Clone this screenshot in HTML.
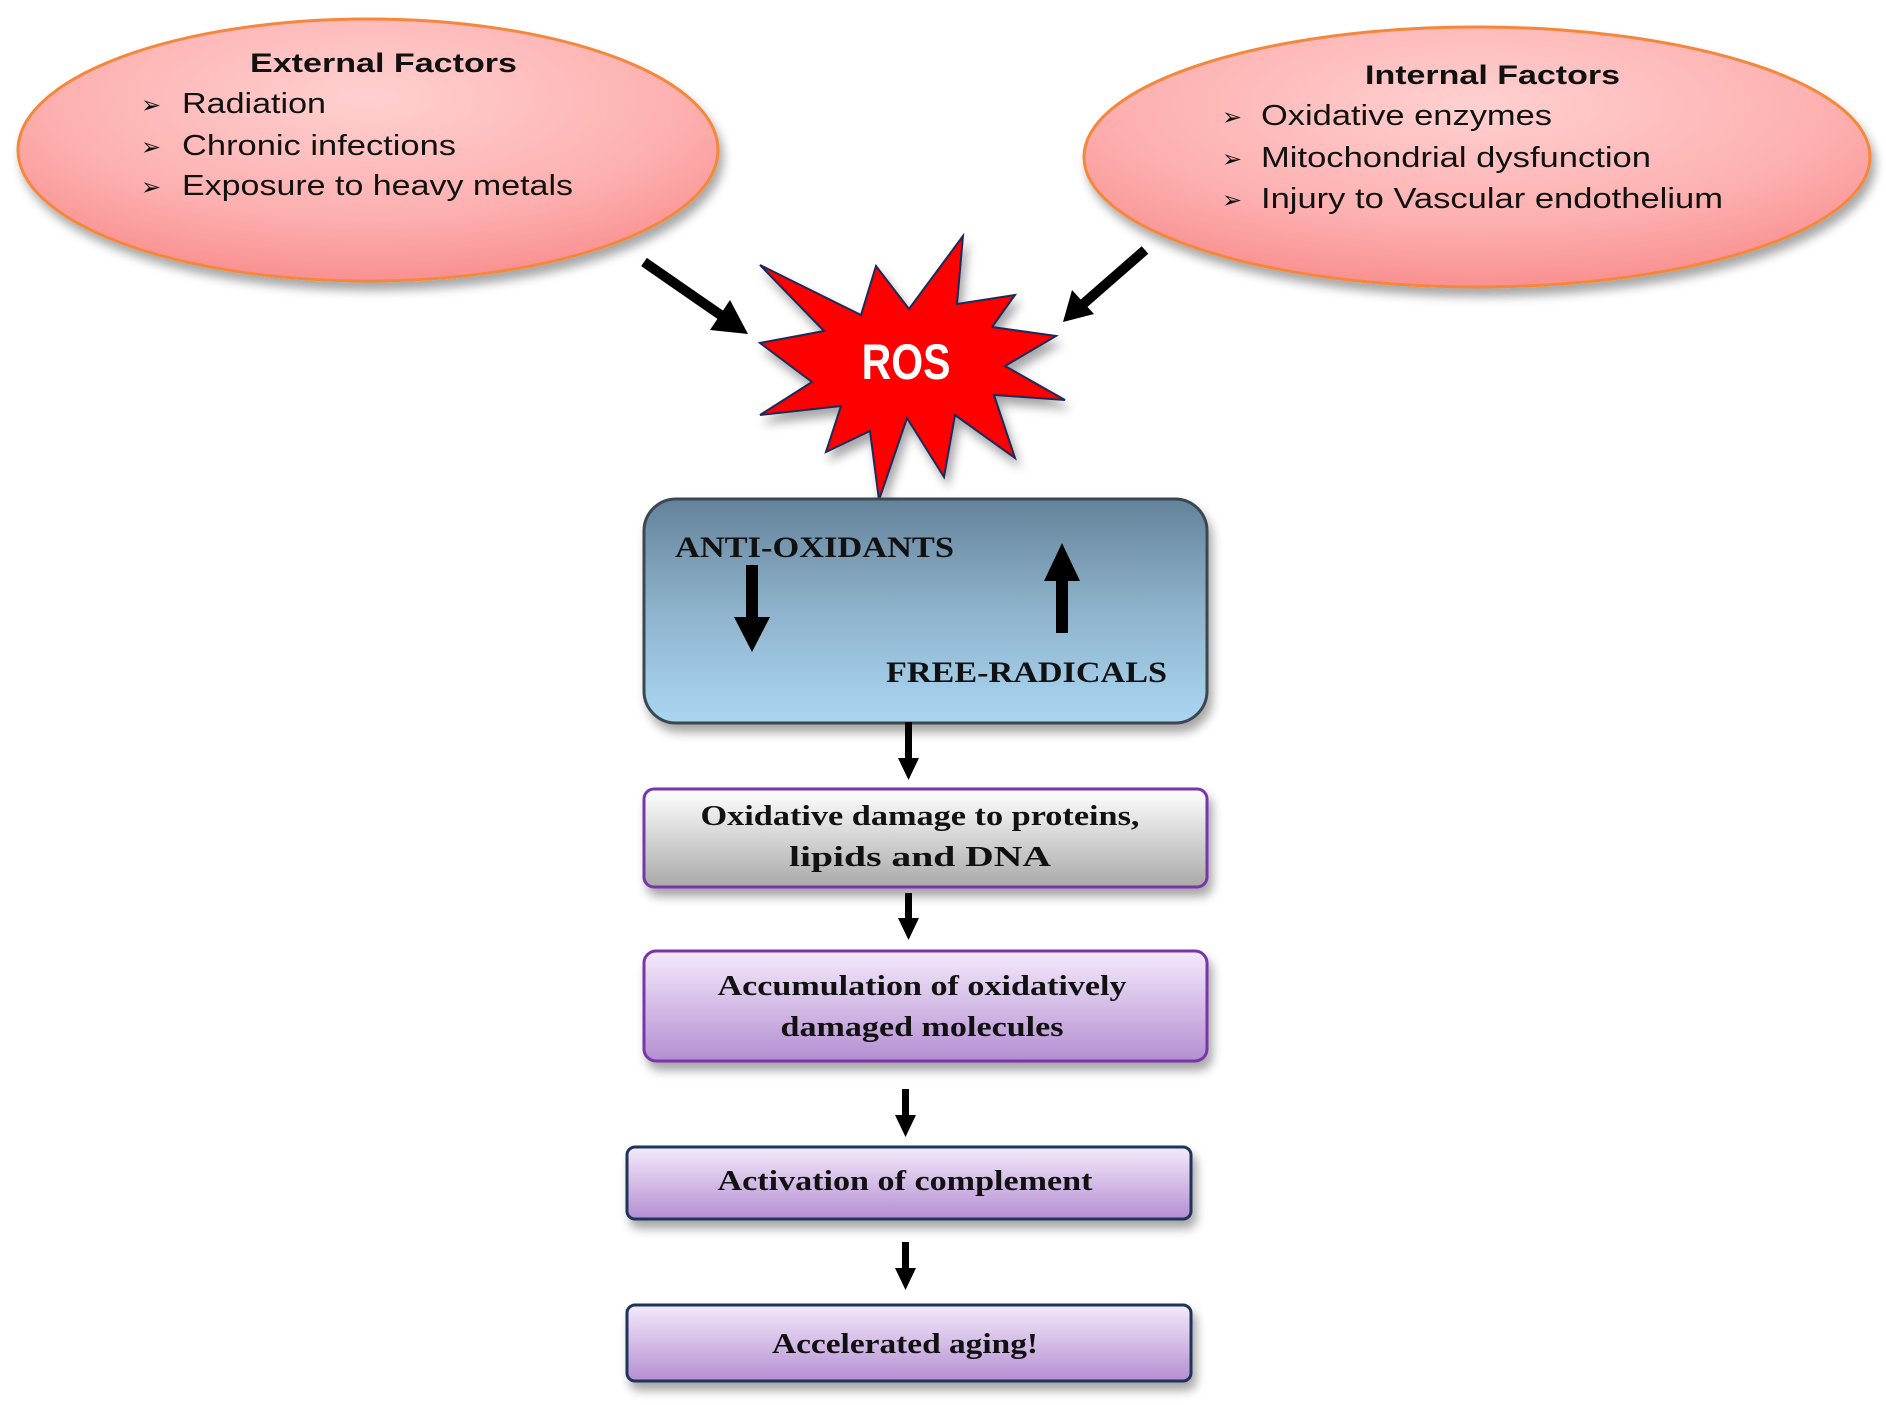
<!DOCTYPE html>
<html><head><meta charset="utf-8"><style>
html,body{margin:0;padding:0;background:#fff;}
svg{display:block;}
</style></head><body>
<svg width="1886" height="1405" viewBox="0 0 1886 1405" xmlns="http://www.w3.org/2000/svg">
<defs>
<radialGradient id="ell" cx="50%" cy="30%" r="75%">
<stop offset="0" stop-color="#ffd0d0"/><stop offset="0.6" stop-color="#fdb0b0"/><stop offset="1" stop-color="#f88a8a"/></radialGradient>
<linearGradient id="blue" x1="0" y1="0" x2="0" y2="1"><stop offset="0" stop-color="#63839a"/><stop offset="0.5" stop-color="#8fb3cc"/><stop offset="1" stop-color="#aad6f2"/></linearGradient>
<linearGradient id="gray" x1="0" y1="0" x2="0" y2="1"><stop offset="0" stop-color="#ffffff"/><stop offset="1" stop-color="#a9a9a9"/></linearGradient>
<linearGradient id="purp" x1="0" y1="0" x2="0" y2="1"><stop offset="0" stop-color="#f4eafb"/><stop offset="1" stop-color="#b48ed2"/></linearGradient>
<filter id="sh" x="-10%" y="-10%" width="130%" height="140%"><feDropShadow dx="4" dy="8" stdDeviation="5" flood-color="#000" flood-opacity="0.35"/></filter>
</defs>

<ellipse cx="368" cy="150" rx="350" ry="131" fill="url(#ell)" stroke="#f5873a" stroke-width="3" filter="url(#sh)"/>
<ellipse cx="1477" cy="157" rx="393" ry="130" fill="url(#ell)" stroke="#f5873a" stroke-width="3" filter="url(#sh)"/>

<g font-family="Liberation Sans, sans-serif" fill="#111" lengthAdjust="spacingAndGlyphs">
<text x="250" y="72" font-size="27" font-weight="bold" textLength="267" lengthAdjust="spacingAndGlyphs">External Factors</text>
<text x="141" y="113" font-size="24">➢</text><text x="182" y="113" font-size="29" textLength="144" lengthAdjust="spacingAndGlyphs">Radiation</text>
<text x="141" y="155" font-size="24">➢</text><text x="182" y="155" font-size="29" textLength="274" lengthAdjust="spacingAndGlyphs">Chronic infections</text>
<text x="141" y="195" font-size="24">➢</text><text x="182" y="195" font-size="29" textLength="391" lengthAdjust="spacingAndGlyphs">Exposure to heavy metals</text>

<text x="1365" y="84" font-size="27" font-weight="bold" textLength="255" lengthAdjust="spacingAndGlyphs">Internal Factors</text>
<text x="1222" y="125" font-size="24">➢</text><text x="1261" y="125" font-size="29" textLength="291" lengthAdjust="spacingAndGlyphs">Oxidative enzymes</text>
<text x="1222" y="167" font-size="24">➢</text><text x="1261" y="167" font-size="29" textLength="390" lengthAdjust="spacingAndGlyphs">Mitochondrial dysfunction</text>
<text x="1222" y="208" font-size="24">➢</text><text x="1261" y="208" font-size="29" textLength="462" lengthAdjust="spacingAndGlyphs">Injury to Vascular endothelium</text>
</g>

<line x1="644" y1="262" x2="722" y2="316" stroke="#000" stroke-width="10"/>
<polygon points="748,334 710,330 730,300" fill="#000"/>
<line x1="1145" y1="250" x2="1082" y2="305" stroke="#000" stroke-width="10"/>
<polygon points="1063,322 1072,290 1094,314" fill="#000"/>

<polygon filter="url(#sh)" points="876,266 909,309 963,236 957,304 1015,295 992,327 1056,336 1005,366 1065,400 994,395 1015,458 955,415 944,477 907,418 879,500 870,431 826,452 841,406 760,415 812,382 760,343 824,331 760,265 861,315" fill="#ff0000" stroke="#1a2a5a" stroke-width="2"/>
<text x="0" y="0" transform="translate(906,379) scale(0.82,1)" font-family="Liberation Sans, sans-serif" font-weight="bold" font-size="50" fill="#fff" text-anchor="middle">ROS</text>

<rect x="644" y="499" width="563" height="224" rx="32" fill="url(#blue)" stroke="#3d4750" stroke-width="3" filter="url(#sh)"/>
<g font-family="Liberation Serif, serif" font-weight="bold" fill="#111">
<text x="675" y="557" font-size="30" textLength="279" lengthAdjust="spacingAndGlyphs">ANTI-OXIDANTS</text>
<text x="886" y="682" font-size="30" textLength="281" lengthAdjust="spacingAndGlyphs">FREE-RADICALS</text>
</g>
<rect x="746" y="565" width="12" height="55" fill="#000"/>
<polygon points="734,617 770,617 752,652" fill="#000"/>
<rect x="1056" y="578" width="12" height="55" fill="#000"/>
<polygon points="1044,581 1080,581 1062,543" fill="#000"/>

<g fill="#000">
<rect x="905" y="722" width="7" height="40"/><polygon points="898,758 919,758 908.5,780"/>
<rect x="905" y="893" width="7" height="30"/><polygon points="898,918 919,918 908.5,940"/>
<rect x="902" y="1089" width="7" height="30"/><polygon points="895,1115 916,1115 905.5,1137"/>
<rect x="902" y="1242" width="7" height="30"/><polygon points="895,1268 916,1268 905.5,1290"/>
</g>

<rect x="644" y="789" width="563" height="98" rx="10" fill="url(#gray)" stroke="#7a35a8" stroke-width="3" filter="url(#sh)"/>
<rect x="644" y="951" width="563" height="110" rx="12" fill="url(#purp)" stroke="#7a35a8" stroke-width="3" filter="url(#sh)"/>
<rect x="627" y="1147" width="564" height="72" rx="8" fill="url(#purp)" stroke="#1f3458" stroke-width="3" filter="url(#sh)"/>
<rect x="627" y="1305" width="564" height="76" rx="8" fill="url(#purp)" stroke="#1f3458" stroke-width="3" filter="url(#sh)"/>

<g font-family="Liberation Serif, serif" font-weight="bold" fill="#111" font-size="28" text-anchor="middle">
<text x="920" y="825" textLength="439" lengthAdjust="spacingAndGlyphs">Oxidative damage to proteins,</text>
<text x="920" y="866" textLength="262" lengthAdjust="spacingAndGlyphs">lipids and DNA</text>
<text x="922" y="995" textLength="409" lengthAdjust="spacingAndGlyphs">Accumulation of oxidatively</text>
<text x="922" y="1036" textLength="283" lengthAdjust="spacingAndGlyphs">damaged molecules</text>
<text x="905" y="1190" textLength="375" lengthAdjust="spacingAndGlyphs">Activation of complement</text>
<text x="905" y="1353" textLength="266" lengthAdjust="spacingAndGlyphs">Accelerated aging!</text>
</g>
</svg>
</body></html>
